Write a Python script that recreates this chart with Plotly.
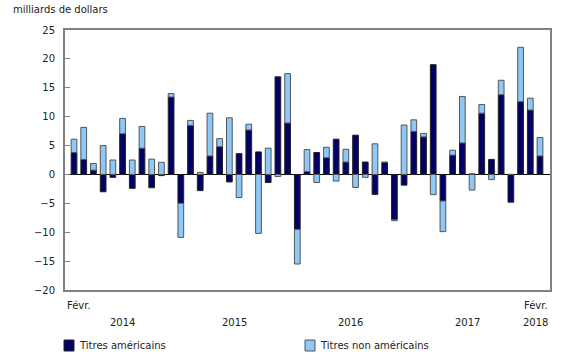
import plotly.graph_objects as go

months = list(range(49))  # Feb 2014 .. Feb 2018
us = [3.8, 2.6, 0.75, -3.0, -0.5, 7.05, -2.4, 4.55, -2.3, -0.2,
      13.4, -5.0, 8.5, -2.8, 3.2, 4.8, -1.3, 3.6, 7.7, 3.9,
      -1.4, 16.9, 8.9, -9.5, 0.5, 3.8, 2.9, 6.1, 2.15, 6.8,
      2.15, -3.45, 2.1, -7.8, -1.85, 7.45, 6.5, 19.0, -4.6, 3.35,
      5.45, 0.1, 10.6, 2.6, 13.8, -4.8, 12.6, 11.15, 3.2]
non_us = [2.3, 5.55, 1.15, 5.0, 2.5, 2.65, 2.5, 3.75, 2.65, 2.1,
          0.6, -5.9, 0.85, 0.35, 7.4, 1.4, 9.8, -4.0, 1.0, -10.2,
          4.55, -0.35, 8.55, -6.0, 3.8, -1.4, 1.8, -1.15, 2.2, -2.25,
          -0.5, 5.3, 0.0, -0.2, 8.55, 2.0, 0.6, -3.5, -5.3, 0.85,
          8.05, -2.7, 1.5, -0.9, 2.5, 0.0, 9.4, 2.05, 3.2]
year_labels = ["2014", "2015", "2016", "2017", "2018"]
year_centers = [5, 16.5, 28.5, 40.5, 47.5]
month_label = "Févr."
y_ticks = [25, 20, 15, 10, 5, 0, -5, -10, -15, -20]
series_names = ["Titres américains", "Titres non américains"]
series_colors = ["#000066", "#8DC8F7"]
series_lines = ["#222222", "#555555"]

FONT = "DejaVu Sans"
FS = 10
W, H = 580, 360
L, R, T, B = 65, 30, 30, 70
PW, PH = W - L - R, H - T - B


def px_x(px):
    return (px - L) / PW


def px_y(py):
    return 1 - (py - T) / PH


fig = go.Figure()
for vals, name, col, lc in zip([us, non_us], series_names, series_colors, series_lines):
    fig.add_trace(go.Bar(x=months, y=vals, name=name,
                         marker=dict(color=col, line=dict(color=lc, width=1)),
                         width=0.59, showlegend=False))

annotations = []
annotations.append(dict(text="milliards de dollars", xref="paper", yref="paper",
                        x=px_x(11), y=px_y(9), xanchor="left", yanchor="middle",
                        showarrow=False))
annotations.append(dict(text=month_label, xref="paper", yref="paper", x=0, y=px_y(305),
                        xanchor="left", yanchor="middle", showarrow=False))
annotations.append(dict(text=month_label, xref="paper", yref="paper", x=1, y=px_y(305),
                        xanchor="right", yanchor="middle", showarrow=False))
for lab, c in zip(year_labels, year_centers):
    if lab == "2018":
        annotations.append(dict(text=lab, xref="paper", yref="paper", x=1, y=px_y(322),
                                xanchor="right", yanchor="middle", showarrow=False))
    else:
        annotations.append(dict(text=lab, xref="x", yref="paper", x=c, y=px_y(322),
                                xanchor="center", yanchor="middle", showarrow=False))

# manual legend
shapes = []
for name, col, lc, x0 in zip(series_names, series_colors, series_lines, [64, 305]):
    shapes.append(dict(type="rect", xref="paper", yref="paper",
                       x0=px_x(x0), x1=px_x(x0 + 10), y0=px_y(340), y1=px_y(351),
                       fillcolor=col, line=dict(color=lc, width=1)))
    annotations.append(dict(text=name, xref="paper", yref="paper", x=px_x(x0 + 13),
                            y=px_y(345.5), xanchor="left", yanchor="middle",
                            showarrow=False))

fig.update_layout(
    width=W, height=H,
    margin=dict(l=L, r=R, t=T, b=B),
    barmode="relative",
    plot_bgcolor="white", paper_bgcolor="white",
    font=dict(family=FONT, size=FS, color="#222222"),
    showlegend=False,
    annotations=annotations,
    shapes=shapes,
    xaxis=dict(range=[-0.93, 49.03], showticklabels=False, ticks="", showgrid=False,
               zeroline=False, showline=True, linecolor="#808080", linewidth=2,
               mirror=True, fixedrange=True),
    yaxis=dict(range=[-20, 25], tickvals=y_ticks, ticks="inside", ticklen=5,
               tickcolor="#808080", tickwidth=1, showgrid=False,
               zeroline=True, zerolinecolor="#000000", zerolinewidth=1,
               showline=True, linecolor="#808080", linewidth=2, mirror=True,
               ticklabelstandoff=6),
)
fig.write_html("out.html")
